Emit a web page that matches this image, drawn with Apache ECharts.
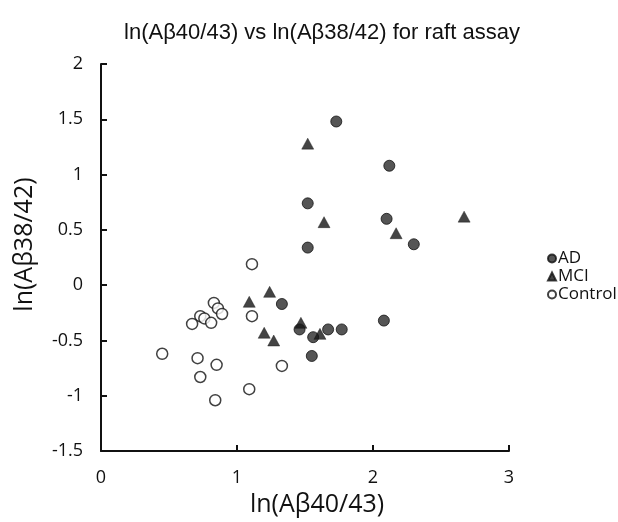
<!DOCTYPE html>
<html>
<head>
<meta charset="utf-8">
<script src="https://cdn.jsdelivr.net/npm/echarts@6/dist/echarts.min.js"></script>
<style>html,body{margin:0;padding:0;background:#fff;}#c{width:618px;height:522px;}</style>
</head>
<body>
<div id="c"></div>
<script>
const titleText = 'ln(Aβ40/43) vs ln(Aβ38/42) for raft assay';
const xName = 'ln(Aβ40/43)';
const yName = 'ln(Aβ38/42)';
const seriesNames = ['AD', 'MCI', 'Control'];

const adPoints = [
  [1.73, 1.48], [2.12, 1.08], [1.52, 0.74], [2.10, 0.60], [2.30, 0.37],
  [1.52, 0.34], [1.33, -0.17], [1.46, -0.40], [1.56, -0.47], [1.67, -0.40],
  [1.77, -0.40], [2.08, -0.32], [1.55, -0.64]
];
const mciPoints = [
  [1.52, 1.28], [1.64, 0.57], [2.17, 0.47], [2.67, 0.62], [1.24, -0.06],
  [1.09, -0.15], [1.20, -0.43], [1.27, -0.50], [1.47, -0.34], [1.61, -0.44]
];
const controlPoints = [
  [1.11, 0.19], [0.83, -0.16], [0.86, -0.21], [0.89, -0.26], [0.73, -0.28],
  [0.76, -0.30], [0.67, -0.35], [0.81, -0.34], [1.11, -0.28], [0.45, -0.62],
  [0.71, -0.66], [0.85, -0.72], [0.73, -0.83], [1.33, -0.73], [1.09, -0.94],
  [0.84, -1.04]
];

const chart = echarts.init(document.getElementById('c'));
const tickFont = 'Open Sans';
chart.setOption({
  animation: false,
  backgroundColor: '#fff',
  title: {
    text: titleText,
    left: 317, top: 17, textAlign: 'center',
    textStyle: { fontFamily: 'Liberation Sans', fontSize: 22, fontWeight: 'normal', color: '#111' }
  },
  grid: { left: 101, right: 109, top: 64, bottom: 65, containLabel: false },
  legend: {
    orient: 'vertical', left: 542, top: 245,
    itemWidth: 8, itemHeight: 8, itemGap: 1,
    textStyle: { fontFamily: tickFont, fontSize: 17, color: '#111', padding: [0, 0, 0, -3] },
    data: [
      { name: seriesNames[0], icon: 'circle' },
      { name: seriesNames[1], icon: 'triangle' },
      { name: seriesNames[2], icon: 'circle' }
    ]
  },
  xAxis: {
    type: 'value', min: 0, max: 3, interval: 1,
    name: xName, nameLocation: 'middle', nameGap: 38,
    nameTextStyle: { fontFamily: tickFont, fontSize: 25, color: '#111', padding: [0, 0, 0, 24] },
    axisLine: { show: true, onZero: false, lineStyle: { color: '#111', width: 2 } },
    axisTick: { show: true, inside: true, length: 6, lineStyle: { color: '#111', width: 2 } },
    axisLabel: { fontFamily: tickFont, fontSize: 18, color: '#111', margin: 18 },
    splitLine: { show: false }
  },
  yAxis: {
    type: 'value', min: -1.5, max: 2, interval: 0.5,
    name: yName, nameLocation: 'middle', nameGap: 64,
    nameTextStyle: { fontFamily: tickFont, fontSize: 25, color: '#111', padding: [0, 0, 0, 26] },
    axisLine: { show: true, onZero: false, lineStyle: { color: '#111', width: 2 } },
    axisTick: { show: true, inside: true, length: 6, lineStyle: { color: '#111', width: 2 } },
    axisLabel: { fontFamily: tickFont, fontSize: 18, color: '#111', margin: 18 },
    splitLine: { show: false }
  },
  series: [
    {
      name: seriesNames[0], type: 'scatter', data: adPoints, symbol: 'circle', symbolSize: 11,
      itemStyle: { color: '#2b2b2b', borderColor: '#111', borderWidth: 1 }, z: 3
    },
    {
      name: seriesNames[1], type: 'scatter', data: mciPoints, symbol: 'triangle', symbolSize: [12, 11],
      itemStyle: { color: '#151515', borderColor: '#111', borderWidth: 0.5 }, z: 4
    },
    {
      name: seriesNames[2], type: 'scatter', data: controlPoints, symbol: 'circle', symbolSize: 11,
      itemStyle: { color: '#fff', borderColor: '#111', borderWidth: 1.5 }, z: 2
    }
  ]
});
</script>
</body>
</html>
